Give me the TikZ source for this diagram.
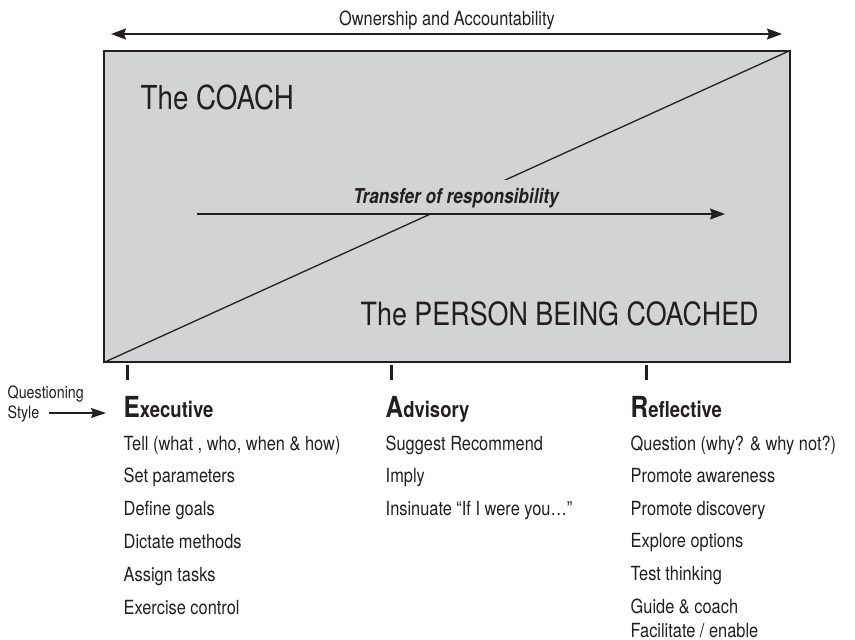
\documentclass[tikz,border=0pt]{standalone}
\usepackage{fontspec}
\setmainfont{TeX Gyre Heros}[FakeStretch=0.84]
\usetikzlibrary{arrows.meta, positioning}
\definecolor{boxgray}{RGB}{209,211,212}
\definecolor{ink}{RGB}{35,31,32}
\newcommand{\fsz}[1]{\fontsize{#1}{#1}\selectfont}

\begin{document}
\begin{tikzpicture}[x=1pt, y=-1pt, color=ink, line width=1.4pt,
    >={Stealth[length=15pt, width=11pt, inset=2pt]}]
    \tikzstyle{head}=[anchor=base west, inner sep=0pt]
    \tikzstyle{item}=[anchor=base west, inner sep=0pt, font=\fsz{19.5}]
    \tikzstyle{tickmark}=[line width=3pt]
    \useasboundingbox (0,0) rectangle (855,640);

    % ownership arrow on top
    \coordinate (ownL) at (111,34);
    \coordinate (ownR) at (782,34);
    \draw[<->] (ownL) -- (ownR);
    \node[anchor=base, inner sep=0pt, font=\fsz{19.5}] (own) at (447,25) {Ownership and Accountability};

    % the box with the diagonal
    \node[draw, fill=boxgray, line width=1.5pt, minimum width=686pt, minimum height=311pt, inner sep=0pt] (box) at (447,206.5) {};
    \draw[line width=1.3pt] (box.south west) -- (box.north east);
    \node[head, font=\fsz{33}] (coach) at (140,109) {The COACH};
    \node[head, font=\fsz{32}] (person) at (360,325) {The PERSON BEING COACHED};

    % transfer
    \node[anchor=base, fill=boxgray, inner ysep=0pt, inner xsep=2pt, text height=23pt, text depth=10pt, font=\fsz{20.5}\bfseries\itshape] (transfer) at (456,203) {Transfer of responsibility};
    \coordinate (trStart) at (197,214);
    \coordinate (trEnd) at (725,214);
    \draw[->] (trStart) -- (trEnd);

    % ticks
    \foreach \tx in {127,391,646}
        \draw[tickmark] (\tx,365) -- (\tx,380);

    % questioning style
    \node[head, font=\fsz{17}] (qs1) at (7,398) {Questioning};
    \node[head, font=\fsz{17}] (qs2) at (7,418) {Style};

    % headings
    \node[head] (exe) at (123,417) {\fsz{29}\bfseries E\fsz{22}xecutive};
    \node[head] (adv) at (385,417) {\fsz{29}\bfseries A\fsz{22}dvisory};
    \node[head] (ref) at (630,417) {\fsz{29}\bfseries R\fsz{22}eflective};

    \draw[->, >={Stealth[length=15pt, width=10pt, inset=2pt]}] ([xshift=9pt, yshift=5pt]qs2.base east) -- ([xshift=-17pt, yshift=5pt]qs2.base east -| exe.base west);

    % lists
    \foreach \txt [count=\i] in {{Tell (what , who, when \& how)}, Set parameters, Define goals, Dictate methods, Assign tasks, Exercise control}
        \node[item] (exe-\i) at (123,{450+32.8*(\i-1)}) {\txt};
    \foreach \txt [count=\i] in {Suggest Recommend, Imply, Insinuate “If I were you…”}
        \node[item] (adv-\i) at (385,{450+32.8*(\i-1)}) {\txt};
    \foreach \txt [count=\i] in {{Question (why? \& why not?)}, Promote awareness, Promote discovery, Explore options, Test thinking, Guide \& coach}
        \node[item] (ref-\i) at (630,{450+32.6*(\i-1)}) {\txt};
    \node[item] (ref-7) at (630,637) {Facilitate / enable};
\end{tikzpicture}
\end{document}
